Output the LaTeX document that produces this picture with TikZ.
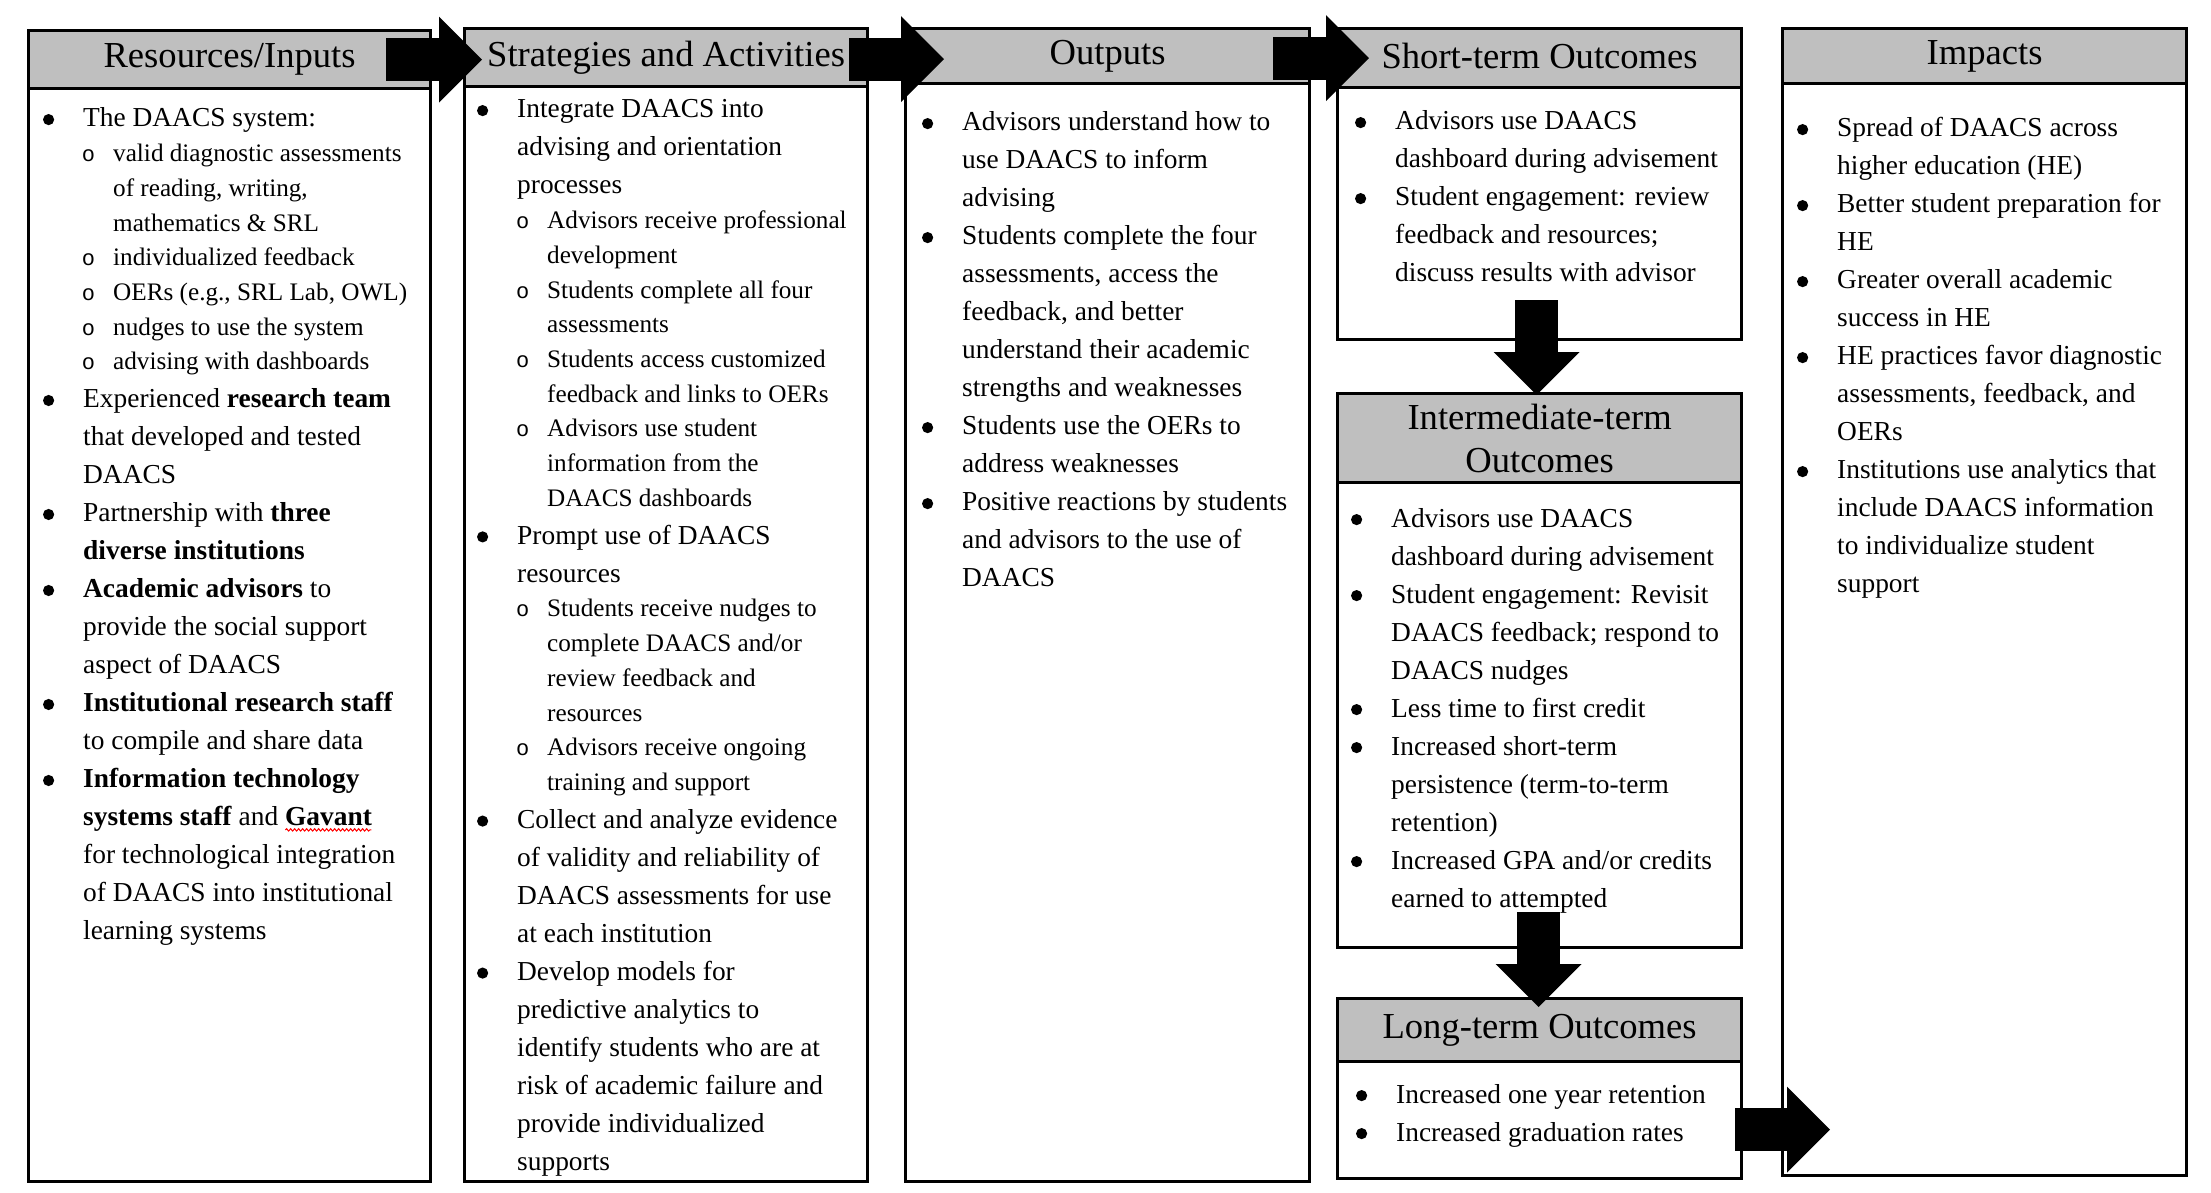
\documentclass[tikz,border=0pt]{standalone}
\usepackage{fontspec}
\setmainfont{Liberation Serif}
\newfontfamily\monof{Liberation Mono}
\usetikzlibrary{arrows.meta,calc,decorations.pathmorphing}
\definecolor{hdrgray}{RGB}{191,191,191}
\newcommand\bul{\tikz[baseline=0pt]\fill[black] (0pt,7.4pt) circle[radius=5.6pt];}
\newcommand\subb{{\monof\fontsize{22pt}{22pt}\selectfont o}}
\newcommand\nl{\hfil\break}
\newcommand\mi[1]{\fontsize{27.4pt}{38pt}\selectfont\leftskip=0pt\relax\noindent\llap{\bul\hspace{29pt}}#1\par}
\newcommand\si[1]{\fontsize{25.2pt}{34.7pt}\selectfont\leftskip=30pt\relax\noindent\llap{\subb\hspace{18pt}}#1\par}
\newcommand\colbody[1]{\vtop{\hsize=400pt\parindent=0pt\parskip=0pt\rightskip=0pt plus 1fil\relax #1}}
\newcommand\gavant{\textbf{Gavant}\llap{\tikz[baseline=0pt]\draw[red,line width=1pt,decorate,decoration={snake,amplitude=1.2pt,segment length=4pt}] (0pt,-4pt) -- (86pt,-4pt);}}
\begin{document}
\begin{tikzpicture}[x=1pt,y=-1pt,
  hdr/.style={draw,line width=3.2pt,fill=hdrgray,inner sep=0pt,anchor=north west,
    font=\fontsize{36.6pt}{43pt}\selectfont,minimum width=#1},
  bodybox/.style={draw,line width=3.2pt,fill=white,inner sep=0pt,anchor=north west,minimum width=#1},
  txt/.style={anchor=base west,inner sep=0pt},
  barrow/.style={line width=43pt,-{Triangle[width=86pt 0 0,length=43pt 0 0,line width=0pt]}}]
\useasboundingbox (0,0) rectangle (2211,1193);
% column 1
\node[bodybox=402pt,minimum height=1093pt] (b1) at (27,87) {};
\node[hdr=402pt,minimum height=58pt] (h1) at (27,29) {Resources/Inputs};
% column 2
\node[bodybox=403pt,minimum height=1095pt] (b2) at (463,85) {};
\node[hdr=403pt,minimum height=58pt] (h2) at (463,27) {\raisebox{2.5pt}{Strategies and Activities}};
% column 3
\node[bodybox=404pt,minimum height=1098pt] (b3) at (904,82) {};
\node[hdr=404pt,minimum height=55pt] (h3) at (904,27) {Outputs};
% column 4
\node[bodybox=404pt,minimum height=252pt] (b4) at (1336,86) {};
\node[hdr=404pt,minimum height=59pt] (h4) at (1336,27) {\raisebox{4pt}{Short-term Outcomes}};
\node[bodybox=404pt,minimum height=465pt] (b4i) at (1336,481) {};
\node[hdr=404pt,minimum height=89pt,align=center] (h4i) at (1336,392) {Intermediate-term\\Outcomes};
\node[bodybox=404pt,minimum height=117pt] (b4l) at (1336,1060) {};
\node[hdr=404pt,minimum height=63pt] (h4l) at (1336,997) {\raisebox{2.5pt}{Long-term Outcomes}};
% column 5
\node[bodybox=404pt,minimum height=1092pt] (b5) at (1781,82) {};
\node[hdr=404pt,minimum height=55pt] (h5) at (1781,27) {Impacts};
% texts
\node[txt] (t1) at (83,127) {\colbody{%
\mi{The DAACS system:}
\si{valid diagnostic assessments\nl of reading, writing,\nl mathematics \& SRL}
\si{individualized feedback}
\si{OERs (e.g., SRL Lab, OWL)}
\si{nudges to use the system}
\si{advising with dashboards}
\mi{Experienced \textbf{research team}\nl that developed and tested\nl DAACS}
\mi{Partnership with \textbf{three}\nl \textbf{diverse institutions}}
\mi{\textbf{Academic advisors} to\nl provide the social support\nl aspect of DAACS}
\mi{\textbf{Institutional research staff}\nl to compile and share data}
\mi{\textbf{Information technology}\nl \textbf{systems staff} and \gavant\nl for technological integration\nl of DAACS into institutional\nl learning systems}}};
\node[txt] (t2) at (517,118) {\colbody{%
\mi{Integrate DAACS into\nl advising and orientation\nl processes}
\si{Advisors receive professional\nl development}
\si{Students complete all four\nl assessments}
\si{Students access customized\nl feedback and links to OERs}
\si{Advisors use student\nl information from the\nl DAACS dashboards}
\mi{Prompt use of DAACS\nl resources}
\si{Students receive nudges to\nl complete DAACS and/or\nl review feedback and\nl resources}
\si{Advisors receive ongoing\nl training and support}
\mi{Collect and analyze evidence\nl of validity and reliability of\nl DAACS assessments for use\nl at each institution}
\mi{Develop models for\nl predictive analytics to\nl identify students who are at\nl risk of academic failure and\nl provide individualized\nl supports}}};
\node[txt] (t3) at (962,131) {\colbody{%
\mi{Advisors understand how to\nl use DAACS to inform\nl advising}
\mi{Students complete the four\nl assessments, access the\nl feedback, and better\nl understand their academic\nl strengths and weaknesses}
\mi{Students use the OERs to\nl address weaknesses}
\mi{Positive reactions by students\nl and advisors to the use of\nl DAACS}}};
\node[txt] (t4) at (1395,130) {\colbody{%
\mi{Advisors use DAACS\nl dashboard during advisement}
\mi{Student engagement: review\nl feedback and resources;\nl discuss results with advisor}}};
\node[txt] (t4i) at (1391,527) {\colbody{%
\mi{Advisors use DAACS\nl dashboard during advisement}
\mi{Student engagement: Revisit\nl DAACS feedback; respond to\nl DAACS nudges}
\mi{Less time to first credit}
\mi{Increased short-term\nl persistence (term-to-term\nl retention)}
\mi{Increased GPA and/or credits\nl earned to attempted}}};
\node[txt] (t4l) at (1396,1103) {\colbody{%
\mi{Increased one year retention}
\mi{Increased graduation rates}}};
\node[txt] (t5) at (1837,137) {\colbody{%
\mi{Spread of DAACS across\nl higher education (HE)}
\mi{Better student preparation for\nl HE}
\mi{Greater overall academic\nl success in HE}
\mi{HE practices favor diagnostic\nl assessments, feedback, and\nl OERs}
\mi{Institutions use analytics that\nl include DAACS information\nl to individualize student\nl support}}};
% arrows
\coordinate (a1s) at ($(h1.east)+(-46,0)$);
\coordinate (a1e) at ($(h2.west |- a1s)+(19,0)$);
\coordinate (a2s) at ($(h2.east)+(-20,1.5)$);
\coordinate (a2e) at ($(h3.west |- a2s)+(40,0)$);
\coordinate (a3s) at ($(h4.west -| h3.east)+(-38,0)$);
\coordinate (a3e) at ($(h4.west |- a3s)+(33,0)$);
\coordinate (d1s) at ($(b4.south)+(-3,-41)$);
\coordinate (d1e) at ($(h4i.north -| d1s)+(0,3)$);
\coordinate (d2s) at ($(b4i.south)+(-1,-37)$);
\coordinate (d2e) at ($(h4l.north -| d2s)+(0,10)$);
\coordinate (a4s) at ($(b4l.east)+(-8,9.5)$);
\coordinate (a4e) at ($(b5.west |- a4s)+(49,0)$);
\draw[barrow] (a1s) -- (a1e);
\draw[barrow] (a2s) -- (a2e);
\draw[barrow] (a3s) -- (a3e);
\draw[barrow] (d1s) -- (d1e);
\draw[barrow] (d2s) -- (d2e);
\draw[barrow] (a4s) -- (a4e);
\end{tikzpicture}
\end{document}
